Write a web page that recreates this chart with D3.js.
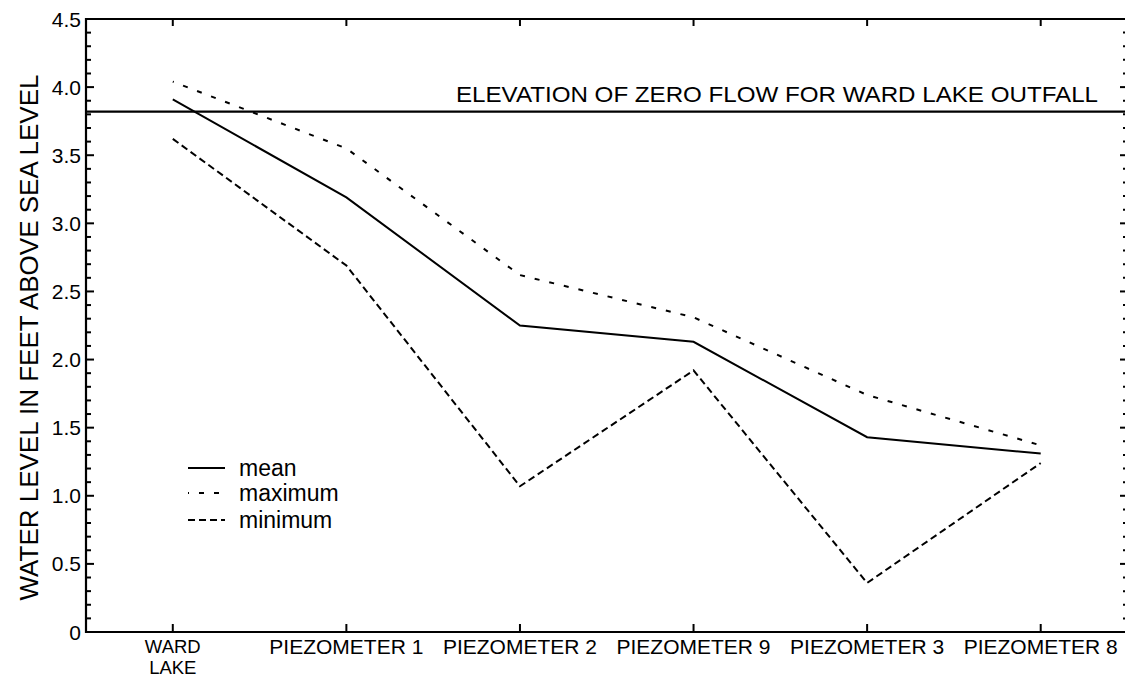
<!DOCTYPE html>
<html><head><meta charset="utf-8">
<script src="https://cdn.jsdelivr.net/npm/d3@7/dist/d3.min.js"></script>
<style>body{margin:0;background:#fff}svg{display:block;font-family:"Liberation Sans",Arial,sans-serif}</style>
</head><body><svg id="c" width="1125" height="677"></svg>
<script>
const categories = ["WARD LAKE","PIEZOMETER 1","PIEZOMETER 2","PIEZOMETER 9","PIEZOMETER 3","PIEZOMETER 8"];
const meanVals = [3.91, 3.19, 2.25, 2.13, 1.43, 1.31];
const maxVals  = [4.04, 3.55, 2.62, 2.31, 1.74, 1.37];
const minVals  = [3.62, 2.69, 1.07, 1.92, 0.36, 1.24];
const zeroFlow = 3.82;
const zeroFlowLabel = "ELEVATION OF ZERO FLOW FOR WARD LAKE OUTFALL";
const yTicks = [0,0.5,1.0,1.5,2.0,2.5,3.0,3.5,4.0,4.5];
const yTickLabels = ["0","0.5","1.0","1.5","2.0","2.5","3.0","3.5","4.0","4.5"];
const yTitle = "WATER LEVEL IN FEET ABOVE SEA LEVEL";
const legendNames = ["mean","maximum","minimum"];

const svg = d3.select("#c");
const L=86, R=1126, T=19, B=632;
const x = d3.scalePoint().domain(categories).range([L,1127.5]).padding(0.5);
const y = d3.scaleLinear().domain([0,4.5]).range([B,T]);

const series = [
  {name:"mean", vals:meanVals, dash:null},
  {name:"maximum", vals:maxVals, dash:"5,10"},
  {name:"minimum", vals:minVals, dash:"7,4"}
];
const line = d3.line().x((d,i)=>x(categories[i])).y(d=>y(d));

const g = svg.append("g");
g.append("line").attr("x1",L).attr("x2",1125).attr("y1",T).attr("y2",T).attr("stroke","#000").attr("stroke-width",2.2);
g.append("line").attr("x1",L).attr("x2",1125).attr("y1",B).attr("y2",B).attr("stroke","#000").attr("stroke-width",2.2);
g.append("line").attr("x1",L).attr("x2",L).attr("y1",T-1).attr("y2",B+1).attr("stroke","#000").attr("stroke-width",2.2);

const minor = d3.range(0,46).map(i=>i/10);
minor.forEach(v=>{
  const major = Math.abs(v*2 - Math.round(v*2))<1e-6;
  g.append("line").attr("x1",L).attr("x2",L+(major?8:5)).attr("y1",y(v)).attr("y2",y(v)).attr("stroke","#000").attr("stroke-width",2);
  g.append("line").attr("x1",1125).attr("x2",1125-(major?5:2)).attr("y1",y(v)).attr("y2",y(v)).attr("stroke","#000").attr("stroke-width",2);
});
yTicks.forEach((v,i)=>{
  g.append("text").attr("x",81).attr("y",y(v)).attr("dy","0.36em").attr("text-anchor","end")
   .attr("font-size",21).text(yTickLabels[i]);
});
categories.forEach(c=>{
  g.append("line").attr("x1",x(c)).attr("x2",x(c)).attr("y1",B).attr("y2",B-8).attr("stroke","#000").attr("stroke-width",2);
  g.append("line").attr("x1",x(c)).attr("x2",x(c)).attr("y1",T).attr("y2",T+7).attr("stroke","#000").attr("stroke-width",2);
  const two = c==="WARD LAKE";
  const parts = two ? ["WARD","LAKE"] : [c];
  const t = g.append("text").attr("text-anchor","middle").attr("font-size",two?18.5:21);
  parts.forEach((p,j)=>{
    t.append("tspan").attr("x",x(c)).attr("y",(two?653:654)+j*21).text(p);
  });
});
g.append("text").attr("transform",`translate(38,${(T+B)/2+12}) rotate(-90)`).attr("text-anchor","middle")
 .attr("font-size",26).text(yTitle);

g.append("line").attr("x1",L).attr("x2",1125).attr("y1",y(zeroFlow)).attr("y2",y(zeroFlow)).attr("stroke","#000").attr("stroke-width",2.2);
g.append("text").attr("x",456).attr("y",y(zeroFlow)-10).attr("font-size",22)
 .attr("textLength",642).attr("lengthAdjust","spacingAndGlyphs").text(zeroFlowLabel);

series.forEach(s=>{
  g.append("path").attr("d",line(s.vals)).attr("fill","none").attr("stroke","#000").attr("stroke-width",2)
   .attr("stroke-dasharray",s.dash).attr("stroke-dashoffset", s.name==="maximum"?4:0);
});

const ly=[468,493,520];
series.forEach((s,i)=>{
  g.append("line").attr("x1",188).attr("x2",225).attr("y1",ly[i]).attr("y2",ly[i]).attr("stroke","#000").attr("stroke-width",2)
   .attr("stroke-dasharray",s.dash).attr("stroke-dashoffset", s.name==="maximum"?4:0);
  g.append("text").attr("x",239).attr("y",ly[i]).attr("dy","0.35em").attr("font-size",23).text(legendNames[i]);
});
</script></body></html>
